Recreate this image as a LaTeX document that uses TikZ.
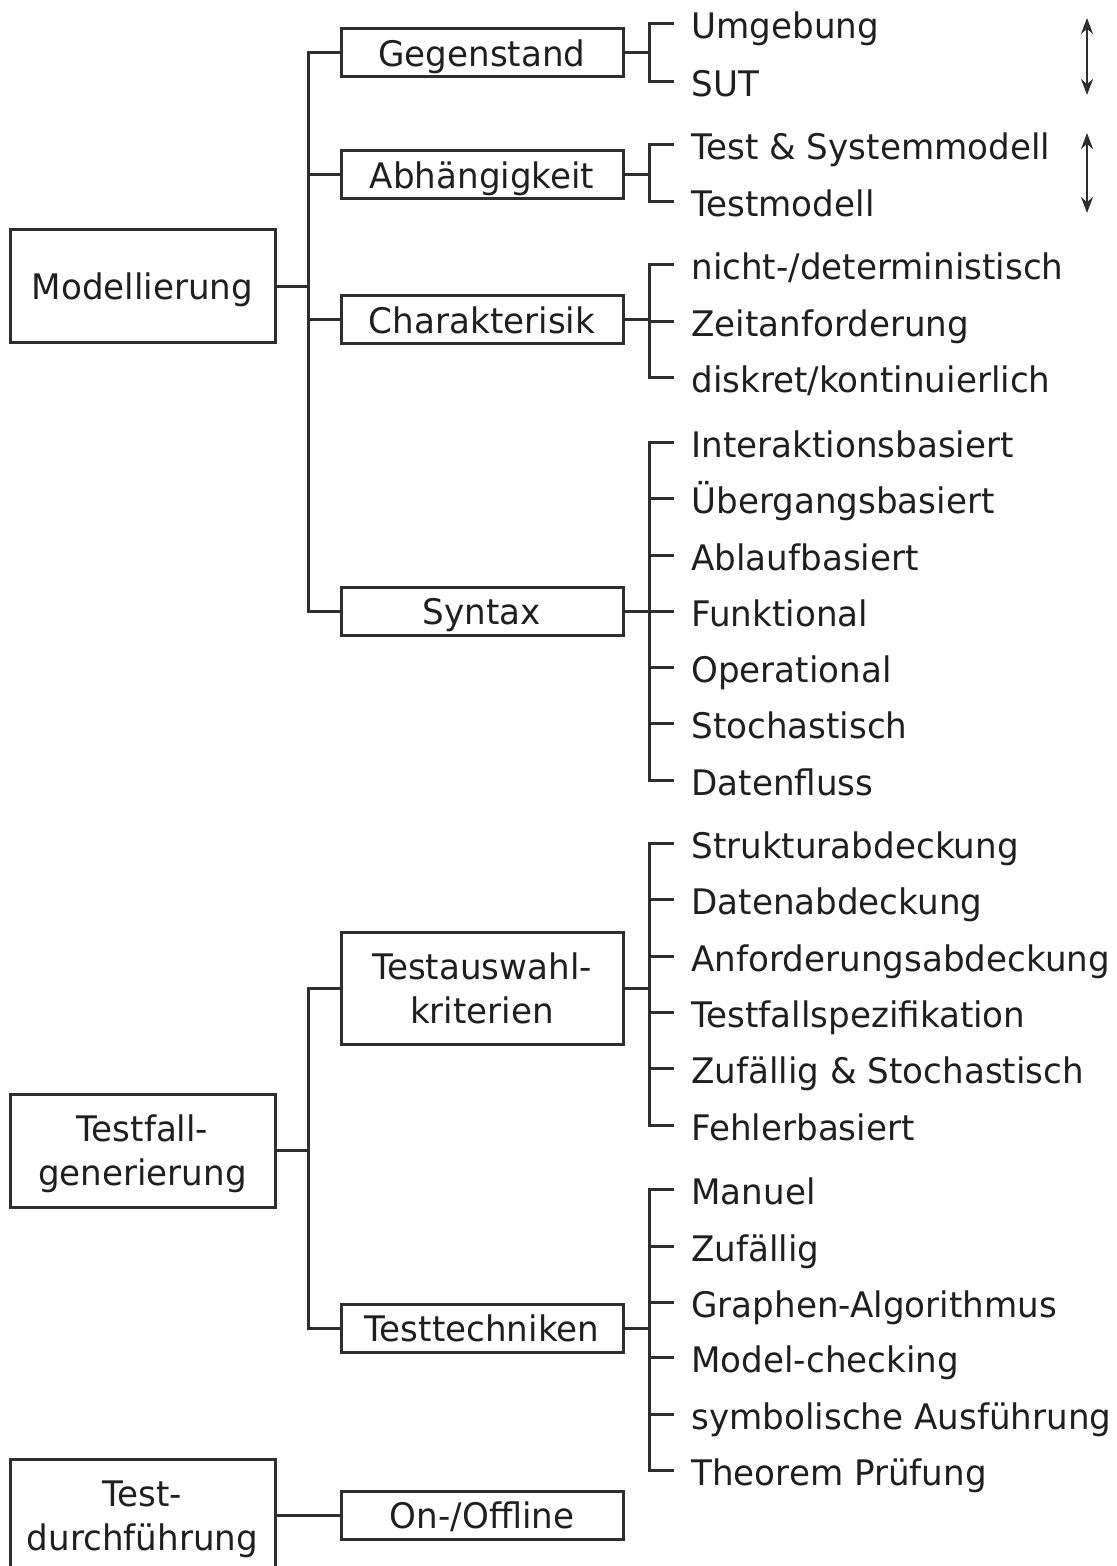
\documentclass[tikz,border=0pt]{standalone}
\usepackage{fontspec}
\setmainfont{DejaVu Sans}[FakeStretch=0.97]
\usetikzlibrary{arrows.meta}
\begin{document}
\begin{tikzpicture}[x=0.5pt,y=-0.5pt,
  ink/.style={line width=1.5pt, draw=black!82},
  every node/.style={font=\fontsize{17.6pt}{22pt}\selectfont, text=black!88},
  mainbox/.style={ink, draw, rectangle, minimum width=132.5pt, minimum height=56.5pt,
                  inner sep=0pt, align=center, text depth=0pt},
  subbox/.style={ink, draw, rectangle, minimum width=141pt, minimum height=24pt,
                 inner sep=0pt, align=center, text depth=0pt},
  leaf/.style={anchor=west, inner xsep=8.5pt, inner ysep=0pt, text height=15pt, text depth=0pt},
  dblarrow/.style={line width=1.4pt, draw=black!82,
                   {Stealth[length=8pt,width=6pt]}-{Stealth[length=8pt,width=6pt]}}
]
\useasboundingbox (0,0) rectangle (1117,1566);
\clip (0,0) rectangle (1117,1566);

% bus columns
\coordinate (b1) at (308,0);
\coordinate (b2) at (649,0);

% top level
\node[mainbox] (mod) at (142.5,286.5) {Modellierung};
\node[mainbox] (gen) at (142.5,1150.5) {Testfall-\\generierung};
\node[mainbox] (dur) at (142.5,1515.5) {Test-\\durchführung};

% second level
\node[subbox] (gegen) at (482,53)   {Gegenstand};
\node[subbox] (abh)   at (482,175)  {Abhängigkeit};
\node[subbox] (char)  at (482,320)  {Charakterisik};
\node[subbox] (syn)   at (482,611)  {Syntax};
\node[subbox, minimum height=56pt] (taw) at (482,988) {Testauswahl-\\kriterien};
\node[subbox] (tt)    at (482,1328) {Testtechniken};
\node[subbox] (onoff) at (482,1515.5) {On-/Offline};

% leaves
\node[leaf] (ge1) at (674,24)  {Umgebung};
\node[leaf] (ge2) at (674,82)  {SUT};
\node[leaf] (ab1) at (674,145) {Test \& Systemmodell};
\node[leaf] (ab2) at (674,202) {Testmodell};
\node[leaf] (ch1) at (674,265) {nicht-/deterministisch};
\node[leaf] (ch2) at (674,322) {Zeitanforderung};
\node[leaf] (ch3) at (674,378) {diskret/kontinuierlich};
\node[leaf] (sy1) at (674,443) {Interaktionsbasiert};
\node[leaf] (sy2) at (674,499) {Übergangsbasiert};
\node[leaf] (sy3) at (674,555) {Ablaufbasiert};
\node[leaf] (sy4) at (674,611) {Funktional};
\node[leaf] (sy5) at (674,667) {Operational};
\node[leaf] (sy6) at (674,723) {Stochastisch};
\node[leaf] (sy7) at (674,780) {Datenfluss};
\node[leaf] (ta1) at (674,843)  {Strukturabdeckung};
\node[leaf] (ta2) at (674,899)  {Datenabdeckung};
\node[leaf] (ta3) at (674,956)  {Anforderungsabdeckung};
\node[leaf] (ta4) at (674,1012) {Testfallspezifikation};
\node[leaf] (ta5) at (674,1068) {Zufällig \& Stochastisch};
\node[leaf] (ta6) at (674,1125) {Fehlerbasiert};
\node[leaf] (te1) at (674,1189) {Manuel};
\node[leaf] (te2) at (674,1246) {Zufällig};
\node[leaf] (te3) at (674,1302) {Graphen-Algorithmus};
\node[leaf] (te4) at (674,1357) {Model-checking};
\node[leaf] (te5) at (674,1414) {symbolische Ausführung};
\node[leaf] (te6) at (674,1470) {Theorem Prüfung};

% first-level brackets
\draw[ink] (mod.east) -- (b1 |- mod.east);
\draw[ink] (gegen.west) -- (b1 |- gegen.west) -- (b1 |- syn.west) -- (syn.west);
\foreach \n in {abh,char} \draw[ink] (\n.west) -- (b1 |- \n.west);

\draw[ink] (gen.east) -- (b1 |- gen.east);
\draw[ink] (taw.west) -- (b1 |- taw.west) -- (b1 |- tt.west) -- (tt.west);

\draw[ink] (dur.east) -- (onoff.west);

% second-level brackets
\draw[ink] (gegen.east) -- (b2 |- gegen.east);
\draw[ink] (ge1.west) -- (b2 |- ge1.west) -- (b2 |- ge2.west) -- (ge2.west);

\draw[ink] (abh.east) -- (b2 |- abh.east);
\draw[ink] (ab1.west) -- (b2 |- ab1.west) -- (b2 |- ab2.west) -- (ab2.west);

\draw[ink] (char.east) -- (b2 |- char.east);
\draw[ink] (ch1.west) -- (b2 |- ch1.west) -- (b2 |- ch3.west) -- (ch3.west);
\draw[ink] (b2 |- ch2.west) -- (ch2.west);

\draw[ink] (syn.east) -- (b2 |- syn.east);
\draw[ink] (sy1.west) -- (b2 |- sy1.west) -- (b2 |- sy7.west) -- (sy7.west);
\foreach \n in {sy2,sy3,sy4,sy5,sy6} \draw[ink] (b2 |- \n.west) -- (\n.west);

\draw[ink] (taw.east) -- (b2 |- taw.east);
\draw[ink] (ta1.west) -- (b2 |- ta1.west) -- (b2 |- ta6.west) -- (ta6.west);
\foreach \n in {ta2,ta3,ta4,ta5} \draw[ink] (b2 |- \n.west) -- (\n.west);

\draw[ink] (tt.east) -- (b2 |- tt.east);
\draw[ink] (te1.west) -- (b2 |- te1.west) -- (b2 |- te6.west) -- (te6.west);
\foreach \n in {te2,te3,te4,te5} \draw[ink] (b2 |- \n.west) -- (\n.west);

% double-headed arrows on the right
\coordinate (a1t) at (1087,18);
\coordinate (a1b) at (1087,95);
\coordinate (a2t) at (1087,133);
\coordinate (a2b) at (1087,213);
\draw[dblarrow] (a1t) -- (a1b);
\draw[dblarrow] (a2t) -- (a2b);
\end{tikzpicture}
\end{document}
